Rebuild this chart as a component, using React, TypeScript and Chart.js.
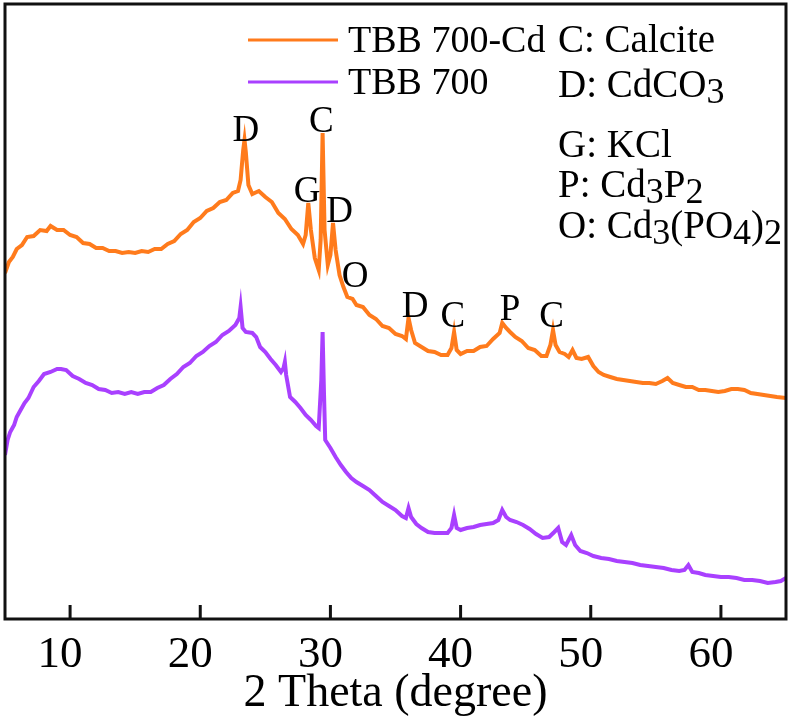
import { useEffect, useRef } from "react";
import { Chart, registerables } from "chart.js";
import type { ChartConfiguration, Plugin } from "chart.js";

Chart.register(...registerables);

// TBB 700-Cd (orange), 2θ in degrees and intensity (a.u.)
const theta700Cd = [
  5.0, 5.3, 5.6, 5.9, 6.3, 6.7, 7.2, 7.7, 8.2, 8.5, 9.0, 9.5, 10.0, 10.5, 11.0,
  11.5, 12.0, 12.5, 13.0, 13.5, 14.0, 14.5, 15.0, 15.5, 16.0, 16.5, 17.0, 17.5,
  18.0, 18.5, 19.0, 19.5, 20.0, 20.5, 21.0, 21.5, 22.0, 22.5, 22.9, 23.1, 23.3,
  23.4, 23.5, 23.7, 24.0, 24.5, 25.0, 25.5, 26.0, 26.5, 27.0, 27.5, 27.9, 28.1,
  28.3, 28.5, 28.8, 29.1, 29.25, 29.4, 29.55, 29.8, 30.0, 30.2, 30.4, 30.7,
  31.0, 31.3, 31.7, 32.0, 32.5, 33.0, 33.5, 34.0, 34.5, 35.0, 35.5, 35.8, 36.0,
  36.2, 36.5, 37.0, 37.5, 38.0, 38.5, 39.0, 39.3, 39.5, 39.7, 40.0, 40.5, 41.0,
  41.5, 42.0, 42.5, 43.0, 43.2, 43.5, 43.8, 44.2, 44.7, 45.2, 45.7, 46.2, 46.6,
  46.9, 47.1, 47.3, 47.6, 48.0, 48.3, 48.6, 48.9, 49.3, 49.8, 50.2, 50.6, 51.0,
  51.5, 52.0, 52.5, 53.0, 53.5, 54.0, 54.5, 55.0, 55.5, 55.9, 56.3, 56.8, 57.3,
  57.8, 58.3, 58.8, 59.3, 59.8, 60.3, 60.8, 61.3, 61.8, 62.3, 62.8, 63.3, 63.8,
  64.3, 65.0,
];
const counts700Cd = [
  346, 357, 362, 370, 374, 382, 383, 389, 388, 393, 389, 389, 384, 382, 376,
  375, 371, 371, 368, 368, 366, 367, 366, 368, 367, 370, 370, 375, 378, 385,
  389, 397, 401, 408, 411, 417, 419, 426, 428, 439, 469, 479, 467, 434, 425,
  428, 422, 417, 406, 400, 390, 384, 375, 384, 416, 389, 361, 349, 379, 486,
  389, 354, 364, 396, 369, 344, 332, 322, 320, 314, 312, 304, 300, 293, 291,
  285, 283, 280, 301, 289, 276, 272, 268, 267, 264, 264, 271, 287, 269, 265,
  268, 268, 272, 273, 280, 286, 296, 291, 287, 282, 278, 271, 269, 263, 263,
  274, 289, 274, 267, 265, 262, 269, 261, 260, 262, 253, 247, 244, 242, 240,
  239, 238, 237, 236, 236, 235, 238, 241, 236, 234, 232, 232, 229, 229, 228,
  227, 228, 230, 230, 229, 226, 225, 224, 223, 222, 221,
];

// TBB 700 (purple)
const theta700 = [
  5.0, 5.2, 5.4, 5.7, 5.9, 6.2, 6.5, 6.8, 7.2, 7.6, 8.0, 8.5, 9.0, 9.3, 9.7,
  10.2, 10.7, 11.2, 11.7, 12.2, 12.7, 13.2, 13.7, 14.2, 14.7, 15.2, 15.7, 16.2,
  16.7, 17.2, 17.7, 18.2, 18.7, 19.2, 19.7, 20.2, 20.7, 21.2, 21.7, 22.2, 22.7,
  23.0, 23.1, 23.25, 23.5, 24.0, 24.3, 24.6, 25.0, 25.4, 25.8, 26.2, 26.4, 26.5,
  26.6, 26.9, 27.3, 27.7, 28.1, 28.5, 28.9, 29.1, 29.3, 29.4, 29.5, 29.6, 30.0,
  30.4, 30.8, 31.2, 31.6, 32.0, 32.5, 33.0, 33.5, 34.0, 34.5, 35.0, 35.5, 35.8,
  36.0, 36.2, 36.6, 37.0, 37.5, 38.0, 38.5, 39.0, 39.3, 39.5, 39.7, 40.0, 40.5,
  41.0, 41.5, 42.0, 42.5, 42.9, 43.2, 43.5, 43.8, 44.3, 44.8, 45.3, 45.8, 46.3,
  46.8, 47.2, 47.5, 47.8, 48.1, 48.5, 48.8, 49.2, 49.7, 50.2, 50.8, 51.4, 52.0,
  52.6, 53.2, 53.8, 54.4, 55.0, 55.6, 56.2, 56.8, 57.2, 57.5, 57.8, 58.3, 58.8,
  59.4, 60.0, 60.6, 61.2, 61.8, 62.4, 63.0, 63.6, 64.2, 64.6, 65.0,
];
const counts700 = [
  164, 179, 187, 194, 202, 209, 216, 221, 232, 238, 245, 247, 250, 250, 249,
  243, 240, 236, 234, 230, 229, 226, 227, 225, 227, 225, 227, 227, 231, 234,
  240, 245, 252, 256, 263, 267, 273, 277, 284, 288, 294, 301, 312, 291, 287,
  286, 282, 272, 267, 260, 254, 247, 251, 257, 244, 222, 217, 211, 204, 199,
  193, 191, 239, 287, 229, 179, 171, 162, 154, 147, 141, 137, 133, 129, 123,
  117, 113, 109, 103, 101, 111, 102, 95, 91, 87, 86, 86, 86, 91, 104, 91, 89,
  91, 92, 94, 95, 96, 99, 109, 102, 99, 97, 94, 90, 85, 81, 82, 87, 91, 77,
  74, 84, 74, 68, 66, 63, 61, 60, 58, 57, 56, 54, 53, 52, 51, 49, 48, 49, 54,
  47, 46, 44, 43, 42, 42, 41, 39, 39, 38, 36, 37, 38, 41,
];

const tickValues = [10, 20, 30, 40, 50, 60];

// phase letters above the peaks: letter, 2θ, intensity level of the letter baseline
const peakLetters = ["D", "C", "G", "D", "O", "D", "C", "P", "C"];
const peakTheta = [23.5, 29.3, 28.2, 30.7, 31.9, 36.5, 39.4, 43.8, 47.0];
const peakLevel = [478, 487, 417, 397, 332, 302, 292, 299, 292];

const seriesNames = ["TBB 700-Cd", "TBB 700"];
const seriesColors = ["#FF7B1C", "#A940FF"];

const SERIF = '"Liberation Serif", "DejaVu Serif", "Times New Roman", serif';

type Run = [string, boolean];

function drawRuns(ctx: CanvasRenderingContext2D, x: number, y: number, runs: Run[]) {
  let cx = x;
  runs.forEach(([text, sub]) => {
    ctx.font = `${sub ? 36 : 39}px ${SERIF}`;
    ctx.fillText(text, cx, sub ? y + 6 : y);
    cx += ctx.measureText(text).width;
  });
}

const overlay: Plugin<"line"> = {
  id: "overlay",
  afterDatasetsDraw(chart) {
    const { ctx, chartArea: a, scales } = chart;
    const x = scales.x;
    const y = scales.y;
    ctx.save();

    // inward ticks and frame
    ctx.strokeStyle = "#111";
    ctx.lineWidth = 3;
    tickValues.forEach((v) => {
      const px = x.getPixelForValue(v);
      ctx.beginPath();
      ctx.moveTo(px, a.bottom);
      ctx.lineTo(px, a.bottom - 14);
      ctx.stroke();
    });
    ctx.strokeRect(a.left, a.top, a.right - a.left, a.bottom - a.top);

    // peak letters
    ctx.fillStyle = "#000";
    ctx.textAlign = "center";
    ctx.textBaseline = "alphabetic";
    ctx.font = `37px ${SERIF}`;
    peakLetters.forEach((t, i) => {
      ctx.fillText(t, x.getPixelForValue(peakTheta[i]), y.getPixelForValue(peakLevel[i]));
    });

    // legend
    ctx.textAlign = "left";
    const rows = [40, 82];
    seriesNames.forEach((name, i) => {
      ctx.strokeStyle = seriesColors[i];
      ctx.lineWidth = 3;
      ctx.beginPath();
      ctx.moveTo(248, rows[i]);
      ctx.lineTo(338, rows[i]);
      ctx.stroke();
      ctx.font = `38px ${SERIF}`;
      ctx.fillText(name, 348, rows[i] + 12);
    });

    // phase key
    drawRuns(ctx, 558, 52, [["C: Calcite", false]]);
    drawRuns(ctx, 558, 97, [["D: CdCO", false], ["3", true]]);
    drawRuns(ctx, 558, 157, [["G: KCl", false]]);
    drawRuns(ctx, 558, 197, [["P: Cd", false], ["3", true], ["P", false], ["2", true]]);
    drawRuns(ctx, 558, 238, [
      ["O: Cd", false],
      ["3", true],
      ["(PO", false],
      ["4", true],
      [")", false],
      ["2", true],
    ]);

    ctx.restore();
  },
};

export default function App() {
  const canvasRef = useRef<HTMLCanvasElement>(null);

  useEffect(() => {
    if (!canvasRef.current) return;

    const config: ChartConfiguration<"line"> = {
      type: "line",
      data: {
        datasets: [
          {
            label: seriesNames[0],
            data: theta700Cd.map((t, i) => ({ x: t, y: counts700Cd[i] })),
            borderColor: seriesColors[0],
            borderWidth: 4,
            pointRadius: 0,
            tension: 0,
          },
          {
            label: seriesNames[1],
            data: theta700.map((t, i) => ({ x: t, y: counts700[i] })),
            borderColor: seriesColors[1],
            borderWidth: 4,
            pointRadius: 0,
            tension: 0,
          },
        ],
      },
      options: {
        animation: false,
        responsive: true,
        maintainAspectRatio: false,
        layout: { padding: { left: 5, right: 6, top: 4, bottom: 0 } },
        plugins: {
          legend: { display: false },
          tooltip: { enabled: false },
        },
        scales: {
          x: {
            type: "linear",
            min: 5,
            max: 65,
            afterBuildTicks: (scale) => {
              scale.ticks = tickValues.map((v) => ({ value: v }));
            },
            grid: { display: false, drawTicks: false },
            border: { display: false },
            ticks: {
              color: "#000",
              padding: 13.5,
              labelOffset: -10,
              maxRotation: 0,
              font: { family: SERIF, size: 45, lineHeight: 1 },
            },
            title: {
              display: true,
              text: "2 Theta (degree)",
              color: "#000",
              padding: { top: -20, bottom: 9 },
              font: { family: SERIF, size: 46, lineHeight: 1 },
            },
          },
          y: {
            display: false,
            min: 0,
            max: 615,
          },
        },
      },
      plugins: [overlay],
    };

    const chart = new Chart(canvasRef.current, config);
    return () => chart.destroy();
  }, []);

  return (
    <div
      style={{
        position: "absolute",
        left: 0,
        top: 0,
        width: 792,
        height: 726,
        background: "#fff",
      }}
    >
      <canvas ref={canvasRef} />
    </div>
  );
}
